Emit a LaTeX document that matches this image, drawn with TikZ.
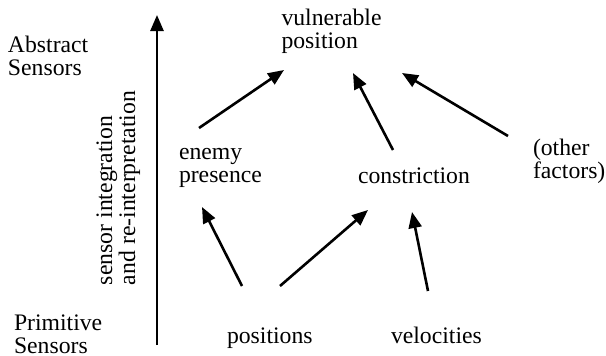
\documentclass[tikz,border=0pt]{standalone}
\usepackage{fontspec}
\setmainfont{Liberation Serif}
\usetikzlibrary{arrows.meta}
\begin{document}
\begin{tikzpicture}[x=1pt,y=-1pt,
  lbl/.style={inner sep=0pt, outer sep=0pt, anchor=base west, align=left,
    font=\fontsize{23.7}{23}\selectfont},
  arr/.style={line width=2.6pt, -{Triangle[length=16pt,width=13pt]}}]
\useasboundingbox (0,0) rectangle (606,356);
\node[lbl] (abs) at (8,75) {Abstract\\Sensors};
\node[lbl] (prim) at (14,353) {Primitive\\Sensors};
\node[lbl, rotate=90] (integ) at (135,285) {sensor integration\\and re-interpretation};
\node[lbl] (vuln) at (281.5,48) {vulnerable\\position};
\node[lbl] (enemy) at (179,182) {enemy\\presence};
\node[lbl] (constr) at (358,183) {constriction};
\node[lbl] (other) at (533,178) {(other\\factors)};
\node[lbl] (pos) at (227,343) {positions};
\node[lbl] (vel) at (391,343) {velocities};
\coordinate (axisbot) at (157,345);
\coordinate (axistop) at (157,15);
\draw[arr] (axisbot) -- (axistop);
\draw[arr] ([shift={(20,-54)}]enemy.base west) -- ([shift={(2.5,22)}]vuln.base west);
\draw[arr] ([shift={(35,-33)}]constr.base west) -- ([shift={(71.5,25)}]vuln.base west);
\draw[arr] ([shift={(-25,-42)}]other.base west) -- ([shift={(120.5,25)}]vuln.base west);
\draw[arr] ([shift={(15,-57)}]pos.base west) -- ([shift={(23,25)}]enemy.base west);
\draw[arr] ([shift={(53,-57)}]pos.base west) -- ([shift={(10,27)}]constr.base west);
\draw[arr] ([shift={(37,-52)}]vel.base west) -- ([shift={(54,29)}]constr.base west);
\end{tikzpicture}
\end{document}
